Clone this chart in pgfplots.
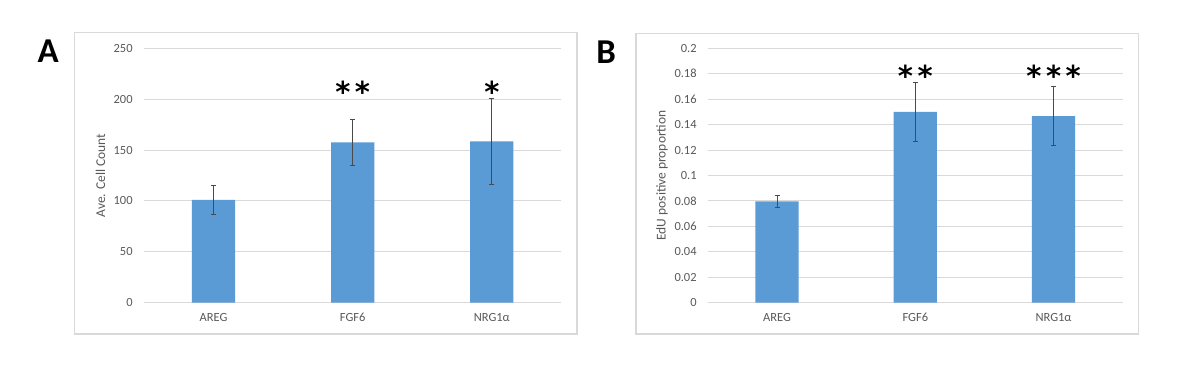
\documentclass[border=0pt]{standalone}
\usepackage{fontspec}
\setmainfont{Carlito}
\newfontfamily\starfont{DejaVu Sans}
\usepackage{pgfplots}
\pgfplotsset{compat=1.18}
\definecolor{barblue}{HTML}{5B9BD5}
\definecolor{gridgray}{HTML}{D9D9D9}
\definecolor{txtgray}{HTML}{595959}
\definecolor{errgray}{HTML}{4A4A4A}
\tikzset{stars/.style={font=\fontsize{29}{31}\selectfont\starfont\bfseries, anchor=base}}
\newcommand{\sk}{\kern4.5bp}
\pgfplotsset{
  panel/.style={
    scale only axis,
    height=254.4bp,
    anchor=south west,
    xmin=-0.5, xmax=2.5,
    ymin=0,
    xtick={0,1,2},
    xticklabels={AREG,FGF6,NRG1α},
    axis line style={draw=none},
    major tick length=0pt,
    ymajorgrids,
    grid style={draw=gridgray, line width=1bp},
    tick label style={font=\fontsize{12.5}{14}\selectfont, color=txtgray},
    /pgf/number format/assume math mode=true,
    yticklabel style={xshift=-7.8bp},
    xticklabel style={yshift=-7bp},
    ylabel style={font=\fontsize{13.5}{15}\selectfont, color=txtgray, anchor=center},
    ybar, bar width=43.3bp,
    clip=false,
  },
  barstyle/.style={fill=barblue, draw=none,
    error bars/.cd, y dir=both, y explicit,
    error bar style={color=errgray, line width=1bp},
    error mark options={rotate=90, mark size=2.5bp, color=errgray, line width=1bp}},
}
\begin{document}
\begin{tikzpicture}
\useasboundingbox[fill=white] (0,0) rectangle (1200bp,383bp);
% chart frames
\draw[gridgray, line width=1.3bp] (74.5bp,49bp) rectangle (577bp,350.3bp);
\draw[gridgray, line width=1.3bp] (636bp,49bp) rectangle (1138.2bp,349.7bp);
% panel letters
\node[font=\fontsize{35}{38}\selectfont\bfseries] at (48.3bp,332.3bp) {A};
\node[font=\fontsize{35}{38}\selectfont\bfseries] at (606.2bp,331.3bp) {B};

\begin{axis}[panel, at={(143.9bp,80.3bp)}, width=417.5bp,
  ymax=250, ytick={0,50,100,150,200,250},
  ylabel={Ave. Cell Count},
  ylabel style={at={(axis description cs:-0.1037,0.5)}}]
\addplot+[barstyle] coordinates {
  (0,101) +- (0,14.5)
  (1,157.5) +- (0,22.5)
  (2,158.5) +- (0,42)
};
\node[stars] at (axis cs:1,196.5) {*\sk*};
\node[stars] at (axis cs:2,196.5) {*};
\end{axis}

\begin{axis}[panel, at={(707.9bp,80.3bp)}, width=414.8bp,
  ymax=0.2, ytick={0,0.02,0.04,0.06,0.08,0.1,0.12,0.14,0.16,0.18,0.2},
  scaled y ticks=false,
  yticklabel style={/pgf/number format/fixed, /pgf/number format/precision=2},
  ylabel={EdU positive proportion},
  ylabel style={at={(axis description cs:-0.1107,0.5)}}]
\addplot+[barstyle] coordinates {
  (0,0.0797) +- (0,0.0048)
  (1,0.1500) +- (0,0.0231)
  (2,0.1466) +- (0,0.0232)
};
\node[stars] at (axis cs:1,0.1700) {*\sk*};
\node[stars] at (axis cs:2,0.1700) {*\sk*\sk*};
\end{axis}
\end{tikzpicture}
\end{document}
